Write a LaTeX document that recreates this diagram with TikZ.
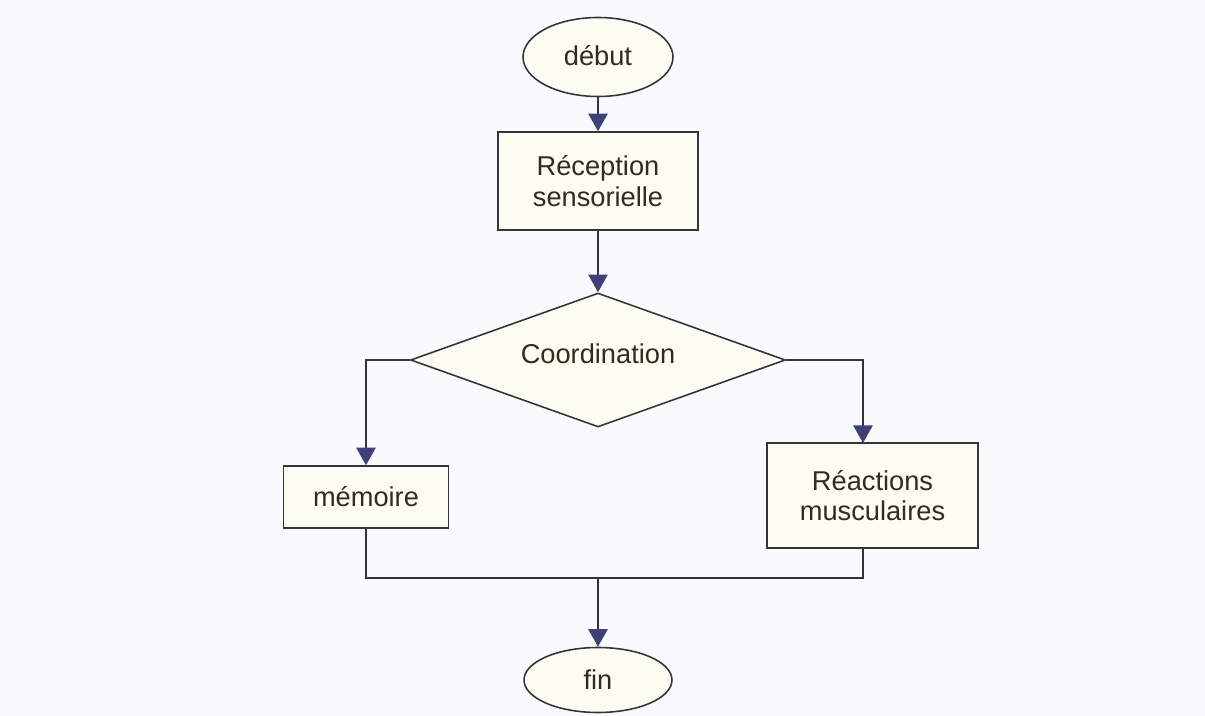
\documentclass[tikz,border=0pt]{standalone}
\usepackage{fontspec}
\setmainfont{Liberation Sans}
\usepackage{xcolor}
\usepackage{tikz}
\usetikzlibrary{shapes.geometric,arrows.meta}
\definecolor{paper}{HTML}{FAFAFD}
\definecolor{ink}{HTML}{34343E}
\definecolor{txt}{HTML}{2E2E1C}
\definecolor{tip}{HTML}{3E4078}
\definecolor{boxfill}{HTML}{FCFCF2}
\tikzset{
  term/.style={ellipse, draw=ink, line width=0.9pt, fill=boxfill, inner sep=0pt},
  proc/.style={rectangle, draw=ink, line width=0.9pt, fill=boxfill, align=center, inner sep=0pt},
  decis/.style={diamond, aspect=2.8, draw=ink, line width=0.9pt, fill=boxfill, inner sep=0pt},
  link/.style={draw=ink, line width=0.9pt},
  flow/.style={link, -{Triangle[width=11pt,length=10pt,color=tip]}},
  every node/.style={text=txt, font=\fontsize{15.5}{17.5}\selectfont}
}

\begin{document}
\begin{tikzpicture}[x=0.02cm, y=-0.02cm]
  \fill[paper] (0,0) rectangle (1205,716);
  \useasboundingbox (0,0) rectangle (1205,716);

  \node[term, minimum width=3cm, minimum height=1.58cm] (debut) at (598,57) {\raisebox{2pt}{d\'ebut}};
  \node[proc, minimum width=4cm, minimum height=1.96cm] (recep) at (598,181) {R\'eception\\sensorielle};
  \node[decis, minimum width=7.5cm, minimum height=2.68cm] (coord) at (598,360) {\raisebox{7.5pt}{Coordination}};
  \node[proc, minimum width=3.3cm, minimum height=1.24cm] (memo) at (366,497) {m\'emoire};
  \node[proc, minimum width=4.22cm, minimum height=2.1cm] (react) at (872.5,495.5) {R\'eactions\\musculaires};
  \node[term, minimum width=2.96cm, minimum height=1.3cm] (fin) at (598,680) {fin};

  \coordinate (rtop) at (863,443);
  \coordinate (rbot) at (863,548);
  \coordinate (merge) at (598,578);

  \draw[flow] (debut) -- (recep);
  \draw[flow] (recep) -- (coord);
  \draw[flow] (coord.west) -| (memo.north);
  \draw[flow] (coord.east) -| (rtop);
  \draw[link] (memo.south) |- (merge) -| (rbot);
  \draw[flow] (merge) -- (fin);
\end{tikzpicture}
\end{document}
